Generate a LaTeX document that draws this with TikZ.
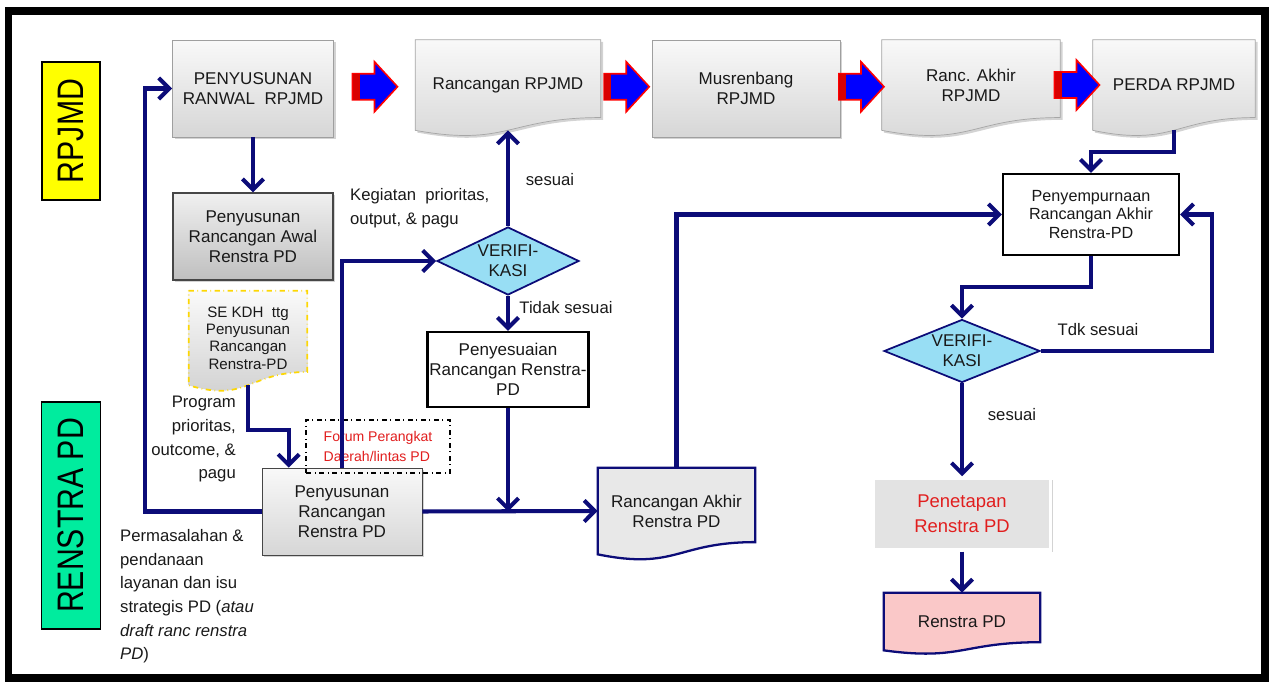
\documentclass[tikz,border=0pt]{standalone}
\usepackage{fontspec}
\setmainfont{Liberation Sans}
\newfontfamily\narrowsans{Liberation Sans}[FakeStretch=0.82]
\usetikzlibrary{positioning,calc,shapes.geometric,arrows.meta,shadows,backgrounds}

\definecolor{navy}{RGB}{12,12,120}
\definecolor{diafill}{RGB}{152,222,244}
\definecolor{lblyellow}{RGB}{255,255,0}
\definecolor{lblgreen}{RGB}{0,236,158}
\definecolor{pinkfill}{RGB}{250,200,200}
\definecolor{redtext}{RGB}{225,30,30}

% document outline below a node: flat top, wavy bottom
\newcommand{\docshape}[2]{%
  \path[#2] (#1.north west) -- (#1.north east) -- ($(#1.north east)!0.859!(#1.south east)$)
    .. controls ($(#1.north)!0.859!(#1.south)$) and ($(#1.north)!1.185!(#1.south)$) .. (#1.south west) -- cycle;}

\tikzset{
  txt/.style={font=\fontsize{9.7}{11.3}\selectfont, align=center, text=black!90},
  shadowed/.style={drop shadow={opacity=0.35, shadow xshift=1.3pt, shadow yshift=-1.3pt}},
  graybox/.style={txt, shadowed, draw=gray!75, top color=gray!5, bottom color=gray!32},
  darkbox/.style={txt, shadowed, draw=gray!55!black, line width=0.8pt, top color=gray!12, bottom color=gray!50},
  plainbox/.style={txt, draw=black, fill=white, line width=1.4pt},
  docbox/.style={txt, inner sep=0pt},
  docgray/.style={shadowed, draw=gray!70, top color=gray!5, bottom color=gray!32},
  docdash/.style={draw=yellow!75!orange, dash dot, line width=1pt, top color=gray!4, bottom color=gray!38},
  docnavy/.style={draw=navy, line width=1.3pt, fill=gray!18},
  docpink/.style={draw=navy, line width=1.3pt, fill=pinkfill},
  verif/.style={txt, diamond, aspect=2.2, inner sep=0pt, draw=navy, fill=diafill, line width=1pt},
  flow/.style={draw=navy, line width=2.3pt, -{Straight Barb[length=6pt,width=12pt]}},
  sidelabel/.style={draw=black, line width=0.8pt, rotate=90, inner sep=0pt,
    font=\narrowsans\fontsize{21}{24}\selectfont},
  note/.style={font=\fontsize{9.5}{13.5}\selectfont, text=black!90},
  bigarrow/.pic={
    \filldraw[fill=blue, draw=red, line width=0.9pt] (-22,-13) -- (0,-13) -- (0,-25) -- (23,0)
      -- (0,25) -- (0,13) -- (-22,13) -- cycle;
    \fill[red!85!black] (-22,-13) rectangle (-15,13);
  }
}

\begin{document}
\begin{tikzpicture}[x=0.02cm, y=-0.02cm]
  \useasboundingbox (0,0) rectangle (1269,685);
  \draw[line width=0.16cm] (8.5,11.5) rectangle (1264.5,678);

  % Side labels
  \node[sidelabel, fill=lblyellow, minimum width=2.76cm, minimum height=1.16cm] (lblrpjmd) at (71,131) {RPJMD};
  \node[sidelabel, fill=lblgreen, minimum width=4.54cm, minimum height=1.18cm] (lblrenstra) at (71,515.5) {RENSTRA PD};

  % Top row: RPJMD stages
  \node[graybox, minimum width=3.22cm, minimum height=1.94cm] (ranwal) at (253,88.5) {PENYUSUNAN\\RANWAL\ \ RPJMD};
  \node[docbox, minimum width=3.7cm, minimum height=1.8cm] (rrpjmd) at (508,85) {Rancangan RPJMD};
  \node[graybox, minimum width=3.76cm, minimum height=1.94cm] (musren) at (746,88.5) {Musrenbang\\RPJMD};
  \node[docbox, minimum width=3.56cm, minimum height=1.8cm] (rakhir) at (971,85) {Ranc. Akhir\\RPJMD};
  \node[docbox, minimum width=3.24cm, minimum height=1.8cm] (perda) at (1174,85) {PERDA RPJMD};
  \foreach \a/\b in {ranwal/rrpjmd, rrpjmd/musren, musren/rakhir, rakhir/perda}
    \pic at ($(\a.east)!0.5!(\b.west)$) {bigarrow};

  % Left column: Renstra PD drafting
  \node[darkbox, minimum width=3.2cm, minimum height=1.74cm] (awal) at (253,236.5) {Penyusunan\\Rancangan Awal\\Renstra PD};
  \node[docbox, minimum width=2.36cm, minimum height=1.88cm, font=\fontsize{8.6}{9.8}\selectfont] (sekdh) at (248,338)
    {SE KDH\ \ ttg\\Penyusunan\\Rancangan\\Renstra-PD};
  \node[note, anchor=north east, align=right] (prog) at (242,390) {Program\\prioritas,\\outcome, \&\\pagu};
  \node[note, anchor=north west, align=left] (masalah) at (114,523)
    {Permasalahan \&\\pendanaan\\layanan dan isu\\strategis PD (\textit{atau}\\\textit{draft ranc renstra}\\\textit{PD})};
  \node[graybox, draw=gray!55!black, minimum width=3.2cm, minimum height=1.74cm] (susun) at (342,511.5) {Penyusunan\\Rancangan\\Renstra PD};
  \node[draw=black, dash dot, line width=0.8pt, minimum width=2.88cm, minimum height=1.06cm,
    font=\fontsize{8}{11.5}\selectfont, text=redtext, align=left] (forum) at (378,446.5) {Forum Perangkat\\Daerah/lintas PD};

  % Middle: first verification
  \node[note, anchor=north west, align=left] (keg) at (344,182) {Kegiatan\ \ prioritas,\\output, \& pagu};
  \node[verif, minimum width=2.84cm, minimum height=1.36cm] (verif1) at (508,261) {VERIFI-\\KASI};
  \node[note] (ses1) at (550,180) {sesuai};
  \node[note] (tdk1) at (566,308) {Tidak sesuai};
  \node[plainbox, inner xsep=1pt, minimum width=3.16cm, minimum height=1.5cm] (penyes) at (508,369.5) {Penyesuaian\\Rancangan Renstra-\\PD};
  \node[docbox, minimum width=3.14cm, minimum height=1.72cm] (rarenstra) at (676.5,511) {Rancangan Akhir\\Renstra PD};

  % Right: completion and final verification
  \node[plainbox, minimum width=3.52cm, minimum height=1.62cm, font=\fontsize{9.2}{10.8}\selectfont] (sempurna) at (1091,214.5)
    {Penyempurnaan\\Rancangan Akhir\\Renstra-PD};
  \node[verif, minimum width=3.12cm, minimum height=1.26cm] (verif2) at (962,351) {VERIFI-\\KASI};
  \node[note] (tdk2) at (1098,330) {Tdk sesuai};
  \node[note] (ses2) at (1012,415) {sesuai};
  \node[txt, shadowed, fill=gray!22, draw=white, line width=2pt, minimum width=3.54cm, minimum height=1.44cm,
    text=redtext, font=\fontsize{10.5}{14.5}\selectfont] (tetap) at (962,514) {Penetapan\\Renstra PD};
  \node[docbox, minimum width=3.12cm, minimum height=1.14cm] (renstra) at (962,621.5) {Renstra PD};

  % Document outlines behind the texts
  \begin{pgfonlayer}{background}
    \docshape{rrpjmd}{docgray}
    \docshape{rakhir}{docgray}
    \docshape{perda}{docgray}
    \docshape{sekdh}{docdash}
    \docshape{rarenstra}{docnavy}
    \docshape{renstra}{docpink}
  \end{pgfonlayer}

  % Connectors
  \coordinate (lft) at (145,0);
  \coordinate (join) at (penyes.south |- susun.east);
  \draw[flow] (ranwal.south) -- (awal.north);
  \draw[flow] (susun.west) -- (susun.west -| lft) |- (ranwal.west);
  \draw[flow] (sekdh.south) -- ++(0,45) -| ([xshift=0.54cm]susun.north west);
  \draw[flow] (susun.north) |- (verif1.west);
  \draw[flow] (verif1.north) -- (rrpjmd.south);
  \draw[flow] (verif1.south) -- (penyes.north);
  \draw[flow] (susun.east) -- (rarenstra.west);
  \draw[flow] (penyes.south) -- (join);
  \draw[flow] (rarenstra.north) |- (sempurna.west);
  \draw[flow] (perda.south) -- ++(0,22) -| (sempurna.north);
  \draw[flow] (sempurna.south) -- ++(0,31) -| (verif2.north);
  \draw[flow] (verif2.east) -- ++(171,0) |- (sempurna.east);
  \draw[flow] (verif2.south) -- (tetap.north);
  \draw[flow] (tetap.south) -- (renstra.north);
\end{tikzpicture}
\end{document}
